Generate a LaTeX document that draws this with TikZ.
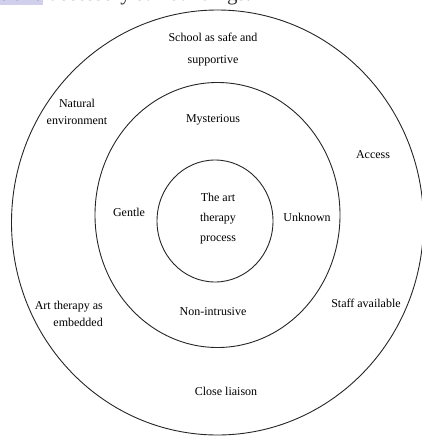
\documentclass[tikz,border=0pt]{standalone}
\usepackage{fontspec}
\setmainfont{Liberation Serif}
\definecolor{marker}{RGB}{208,208,236}
\begin{document}
\begin{tikzpicture}[x=1pt,y=-1pt,
    ring/.style={draw=black!85,line width=0.9pt},
    theme/.style={font=\fontsize{12}{17}\selectfont,align=center,inner sep=0pt,text=black}]
  \useasboundingbox (0,0) rectangle (422,436);
  % cut-off line of the page above
  \begin{scope}
    \clip (0,0) rectangle (422,436);
    \fill[marker] (0,-2) rectangle (43,5.5);
    \node[anchor=base west,inner sep=0pt,font=\fontsize{21}{24}\selectfont,text=black!80]
      (caption) at (-1,1) {e and accessory surroundings.};
  \end{scope}
  % rings
  \coordinate (outer) at (217.5,222.5);
  \coordinate (middle) at (217.5,215);
  \coordinate (inner) at (215,221);
  \draw[ring] (outer) ellipse [x radius=206, y radius=212.5];
  \draw[ring] (middle) ellipse [x radius=122.5, y radius=132.5];
  \draw[ring] (inner) ellipse [x radius=58, y radius=61];
  % outer ring
  \node[theme] (school) at (213,50) {School as safe and\\[5pt]supportive};
  \node[theme] (nature) at (77,111.5) {Natural\\environment};
  \node[theme] (access) at (373,155) {Access};
  \node[theme,align=right,anchor=east] (embedded) at (103,314) {Art therapy as\\embedded};
  \node[theme] (staff) at (366,303) {Staff available};
  \node[theme] (liaison) at (226,391) {Close liaison};
  % middle ring
  \node[theme] (mysterious) at (213,120) {Mysterious};
  \node[theme] (gentle) at (129,212) {Gentle};
  \node[theme] (unknown) at (307,217) {Unknown};
  \node[theme] (nonintrusive) at (213,312) {Non-intrusive};
  % centre
  \node[theme] (process) at (218,219) {The art\\[3pt]therapy\\[3pt]process};
\end{tikzpicture}
\end{document}
